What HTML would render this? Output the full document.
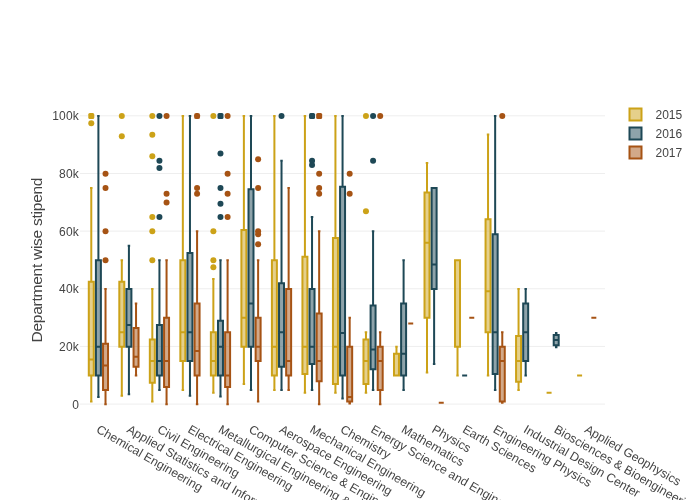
<!DOCTYPE html>
<html><head><meta charset="utf-8"><title>Department wise stipend</title>
<style>
html,body{margin:0;padding:0;background:#fff;}
body{width:700px;height:500px;overflow:hidden;}
svg{display:block;}
text{font-family:"Liberation Sans",sans-serif;fill:#444;}
.b{stroke-width:2;fill-opacity:0.5;}
.w{stroke-width:2;fill:none;}
</style></head><body>
<svg width="700" height="500" viewBox="0 0 700 500">
<rect width="700" height="500" fill="#fff"/>
<g stroke="#eee" stroke-width="1">
<path d="M80,404.1H605"/>
<path d="M80,346.44H605"/>
<path d="M80,288.78H605"/>
<path d="M80,231.12H605"/>
<path d="M80,173.46H605"/>
<path d="M80,115.8H605"/>
</g>
<g stroke="#CCA218" fill="#CCA218">
<path class="b" d="M88.79,359.61H93.77M88.79,375.47H93.77V281.77H88.79ZM91.28,375.47V401.42M91.28,281.77V188.08M90.03,401.42H92.53M90.03,188.08H92.53"/>
<rect x="88.28" y="113.1" width="6" height="6" rx="1.5" stroke="none"/>
<circle cx="91.28" cy="123.21" r="3" stroke="none"/>
<path class="b" d="M119.31,332.23H124.29M119.31,346.64H124.29V281.77H119.31ZM121.8,346.64V395.65M121.8,281.77V260.15M120.55,395.65H123.05M120.55,260.15H123.05"/>
<circle cx="121.8" cy="116.0" r="3" stroke="none"/>
<circle cx="121.8" cy="136.18" r="3" stroke="none"/>
<path class="b" d="M149.83,361.06H154.81M149.83,382.68H154.81V339.43H149.83ZM152.32,382.68V401.42M152.32,339.43V288.98M151.07,401.42H153.56M151.07,288.98H153.56"/>
<circle cx="152.32" cy="116.0" r="3" stroke="none"/>
<circle cx="152.32" cy="134.74" r="3" stroke="none"/>
<circle cx="152.32" cy="156.36" r="3" stroke="none"/>
<circle cx="152.32" cy="216.91" r="3" stroke="none"/>
<circle cx="152.32" cy="231.32" r="3" stroke="none"/>
<circle cx="152.32" cy="260.15" r="3" stroke="none"/>
<path class="b" d="M180.35,332.23H185.33M180.35,361.06H185.33V260.15H180.35ZM182.84,361.06V389.88M182.84,260.15V116.0M181.59,389.88H184.09M181.59,116.0H184.09"/>
<path class="b" d="M210.87,361.06H215.85M210.87,375.47H215.85V332.23H210.87ZM213.36,375.47V392.77M213.36,332.23V278.89M212.12,392.77H214.61M212.12,278.89H214.61"/>
<circle cx="213.36" cy="116.0" r="3" stroke="none"/>
<circle cx="213.36" cy="231.32" r="3" stroke="none"/>
<circle cx="213.36" cy="260.15" r="3" stroke="none"/>
<circle cx="213.36" cy="267.36" r="3" stroke="none"/>
<path class="b" d="M241.39,317.81H246.37M241.39,346.64H246.37V229.88H241.39ZM243.88,346.64V384.12M243.88,229.88V116.0M242.63,384.12H245.12M242.63,116.0H245.12"/>
<path class="b" d="M271.91,346.64H276.89M271.91,375.47H276.89V260.15H271.91ZM274.4,375.47V389.88M274.4,260.15V116.0M273.15,389.88H275.64M273.15,116.0H275.64"/>
<path class="b" d="M302.43,346.64H307.41M302.43,374.03H307.41V256.69H302.43ZM304.92,374.03V392.77M304.92,256.69V116.0M303.68,392.77H306.17M303.68,116.0H306.17"/>
<path class="b" d="M332.95,346.64H337.93M332.95,384.12H337.93V237.95H332.95ZM335.44,384.12V392.77M335.44,237.95V116.0M334.19,392.77H336.69M334.19,116.0H336.69"/>
<path class="b" d="M363.47,361.06H368.45M363.47,384.12H368.45V339.43H363.47ZM365.96,384.12V392.77M365.96,339.43V332.23M364.71,392.77H367.2M364.71,332.23H367.2"/>
<circle cx="365.96" cy="116.0" r="3" stroke="none"/>
<circle cx="365.96" cy="211.14" r="3" stroke="none"/>
<path class="b" d="M393.99,375.47H398.97M393.99,375.47H398.97V353.85H393.99ZM396.48,375.47V375.47M396.48,353.85V346.64M395.24,375.47H397.73M395.24,346.64H397.73"/>
<path class="b" d="M424.51,242.85H429.49M424.51,317.81H429.49V192.4H424.51ZM427.0,317.81V372.59M427.0,192.4V162.99M425.75,372.59H428.25M425.75,162.99H428.25"/>
<path class="b" d="M455.03,260.15H460.01M455.03,346.64H460.01V260.15H455.03ZM457.52,346.64V375.47M457.52,260.15V260.15M456.27,375.47H458.76M456.27,260.15H458.76"/>
<path class="b" d="M485.55,291.29H490.53M485.55,332.23H490.53V219.21H485.55ZM488.04,332.23V375.47M488.04,219.21V134.45M486.8,375.47H489.29M486.8,134.45H489.29"/>
<path class="b" d="M516.07,361.06H521.05M516.07,381.81H521.05V335.97H516.07ZM518.56,381.81V389.88M518.56,335.97V288.98M517.31,389.88H519.8M517.31,288.98H519.8"/>
<path class="b" d="M546.59,392.77H551.57M546.59,392.77H551.57V392.77H546.59ZM549.08,392.77V392.77M549.08,392.77V392.77M547.84,392.77H550.33M547.84,392.77H550.33"/>
<path class="b" d="M577.11,375.47H582.09M577.11,375.47H582.09V375.47H577.11ZM579.6,375.47V375.47M579.6,375.47V375.47M578.36,375.47H580.85M578.36,375.47H580.85"/>
</g>
<g stroke="#1E4856" fill="#1E4856">
<path class="b" d="M95.91,346.64H100.89M95.91,375.47H100.89V260.15H95.91ZM98.4,375.47V397.09M98.4,260.15V116.0M97.16,397.09H99.65M97.16,116.0H99.65"/>
<path class="b" d="M126.43,325.02H131.41M126.43,346.64H131.41V288.98H126.43ZM128.92,346.64V394.21M128.92,288.98V245.74M127.67,394.21H130.16M127.67,245.74H130.16"/>
<path class="b" d="M156.95,361.06H161.93M156.95,375.47H161.93V325.02H156.95ZM159.44,375.47V389.88M159.44,325.02V260.15M158.19,389.88H160.69M158.19,260.15H160.69"/>
<circle cx="159.44" cy="116.0" r="3" stroke="none"/>
<circle cx="159.44" cy="160.69" r="3" stroke="none"/>
<circle cx="159.44" cy="167.89" r="3" stroke="none"/>
<circle cx="159.44" cy="216.91" r="3" stroke="none"/>
<path class="b" d="M187.47,332.23H192.45M187.47,361.06H192.45V252.94H187.47ZM189.96,361.06V395.65M189.96,252.94V116.0M188.72,395.65H191.21M188.72,116.0H191.21"/>
<path class="b" d="M217.99,346.64H222.97M217.99,375.47H222.97V320.69H217.99ZM220.48,375.47V396.52M220.48,320.69V260.15M219.23,396.52H221.72M219.23,260.15H221.72"/>
<rect x="217.48" y="113.1" width="6" height="6" rx="1.5" stroke="none"/>
<circle cx="220.48" cy="153.48" r="3" stroke="none"/>
<circle cx="220.48" cy="188.08" r="3" stroke="none"/>
<circle cx="220.48" cy="203.64" r="3" stroke="none"/>
<circle cx="220.48" cy="216.91" r="3" stroke="none"/>
<path class="b" d="M248.51,303.39H253.49M248.51,346.64H253.49V189.23H248.51ZM251.0,346.64V389.88M251.0,189.23V116.0M249.75,389.88H252.25M249.75,116.0H252.25"/>
<path class="b" d="M279.03,332.23H284.01M279.03,366.82H284.01V283.21H279.03ZM281.52,366.82V389.88M281.52,283.21V160.69M280.27,389.88H282.76M280.27,160.69H282.76"/>
<circle cx="281.52" cy="116.0" r="3" stroke="none"/>
<path class="b" d="M309.55,346.64H314.53M309.55,363.94H314.53V288.98H309.55ZM312.04,363.94V389.88M312.04,288.98V216.91M310.8,389.88H313.29M310.8,216.91H313.29"/>
<rect x="309.04" y="113.1" width="6" height="6" rx="1.5" stroke="none"/>
<circle cx="312.04" cy="160.69" r="3" stroke="none"/>
<circle cx="312.04" cy="165.01" r="3" stroke="none"/>
<path class="b" d="M340.07,333.09H345.05M340.07,375.47H345.05V186.63H340.07ZM342.56,375.47V398.53M342.56,186.63V116.0M341.31,398.53H343.81M341.31,116.0H343.81"/>
<path class="b" d="M370.59,349.52H375.57M370.59,369.13H375.57V305.41H370.59ZM373.08,369.13V389.88M373.08,305.41V231.32M371.83,389.88H374.32M371.83,231.32H374.32"/>
<circle cx="373.08" cy="116.0" r="3" stroke="none"/>
<circle cx="373.08" cy="160.69" r="3" stroke="none"/>
<path class="b" d="M401.11,353.85H406.09M401.11,375.47H406.09V303.39H401.11ZM403.6,375.47V389.88M403.6,303.39V260.15M402.36,389.88H404.85M402.36,260.15H404.85"/>
<path class="b" d="M431.63,264.47H436.61M431.63,288.98H436.61V188.08H431.63ZM434.12,288.98V363.94M434.12,188.08V188.08M432.88,363.94H435.37M432.88,188.08H435.37"/>
<path class="b" d="M462.15,375.47H467.13M462.15,375.47H467.13V375.47H462.15ZM464.64,375.47V375.47M464.64,375.47V375.47M463.39,375.47H465.88M463.39,375.47H465.88"/>
<path class="b" d="M492.67,332.23H497.65M492.67,374.03H497.65V234.2H492.67ZM495.16,374.03V389.88M495.16,234.2V116.0M493.92,389.88H496.41M493.92,116.0H496.41"/>
<path class="b" d="M523.19,332.23H528.17M523.19,361.06H528.17V303.39H523.19ZM525.68,361.06V375.47M525.68,303.39V288.98M524.43,375.47H526.92M524.43,288.98H526.92"/>
<path class="b" d="M553.71,340.01H558.69M553.71,345.2H558.69V335.11H553.71ZM556.2,345.2V347.22M556.2,335.11V333.09M554.96,347.22H557.45M554.96,333.09H557.45"/>
</g>
<g stroke="#A65314" fill="#A65314">
<path class="b" d="M103.03,365.38H108.01M103.03,389.88H108.01V343.76H103.03ZM105.52,389.88V404.3M105.52,343.76V288.98M104.27,404.3H106.77M104.27,288.98H106.77"/>
<circle cx="105.52" cy="173.66" r="3" stroke="none"/>
<circle cx="105.52" cy="188.08" r="3" stroke="none"/>
<circle cx="105.52" cy="231.32" r="3" stroke="none"/>
<circle cx="105.52" cy="260.15" r="3" stroke="none"/>
<path class="b" d="M133.55,356.73H138.53M133.55,366.82H138.53V327.9H133.55ZM136.04,366.82V375.47M136.04,327.9V303.39M134.79,375.47H137.28M134.79,303.39H137.28"/>
<path class="b" d="M164.07,361.06H169.05M164.07,387.0H169.05V317.81H164.07ZM166.56,387.0V404.3M166.56,317.81V260.15M165.31,404.3H167.81M165.31,260.15H167.81"/>
<circle cx="166.56" cy="116.0" r="3" stroke="none"/>
<circle cx="166.56" cy="193.84" r="3" stroke="none"/>
<circle cx="166.56" cy="202.49" r="3" stroke="none"/>
<path class="b" d="M194.59,350.96H199.57M194.59,375.47H199.57V303.39H194.59ZM197.08,375.47V404.3M197.08,303.39V231.32M195.84,404.3H198.33M195.84,231.32H198.33"/>
<rect x="194.08" y="113.1" width="6" height="6" rx="2.2" stroke="none"/>
<circle cx="197.08" cy="188.08" r="3" stroke="none"/>
<circle cx="197.08" cy="193.84" r="3" stroke="none"/>
<path class="b" d="M225.11,375.47H230.09M225.11,387.0H230.09V332.23H225.11ZM227.6,387.0V404.3M227.6,332.23V260.15M226.35,404.3H228.84M226.35,260.15H228.84"/>
<circle cx="227.6" cy="116.0" r="3" stroke="none"/>
<circle cx="227.6" cy="173.66" r="3" stroke="none"/>
<circle cx="227.6" cy="193.84" r="3" stroke="none"/>
<circle cx="227.6" cy="216.91" r="3" stroke="none"/>
<path class="b" d="M255.63,346.64H260.61M255.63,361.06H260.61V317.81H255.63ZM258.12,361.06V401.42M258.12,317.81V260.15M256.88,401.42H259.37M256.88,260.15H259.37"/>
<circle cx="258.12" cy="159.25" r="3" stroke="none"/>
<circle cx="258.12" cy="188.08" r="3" stroke="none"/>
<circle cx="258.12" cy="231.32" r="3" stroke="none"/>
<circle cx="258.12" cy="234.2" r="3" stroke="none"/>
<circle cx="258.12" cy="244.29" r="3" stroke="none"/>
<path class="b" d="M286.15,361.06H291.13M286.15,375.47H291.13V288.98H286.15ZM288.64,375.47V389.88M288.64,288.98V188.08M287.39,389.88H289.88M287.39,188.08H289.88"/>
<path class="b" d="M316.67,361.06H321.65M316.67,381.24H321.65V313.49H316.67ZM319.16,381.24V404.3M319.16,313.49V231.32M317.92,404.3H320.41M317.92,231.32H320.41"/>
<rect x="316.16" y="113.1" width="6" height="6" rx="1.5" stroke="none"/>
<circle cx="319.16" cy="173.66" r="3" stroke="none"/>
<circle cx="319.16" cy="188.08" r="3" stroke="none"/>
<circle cx="319.16" cy="193.84" r="3" stroke="none"/>
<path class="b" d="M347.19,397.09H352.17M347.19,401.42H352.17V346.64H347.19ZM349.68,401.42V403.44M349.68,346.64V317.81M348.44,403.44H350.93M348.44,317.81H350.93"/>
<circle cx="349.68" cy="173.66" r="3" stroke="none"/>
<circle cx="349.68" cy="193.84" r="3" stroke="none"/>
<path class="b" d="M377.71,361.06H382.69M377.71,389.88H382.69V346.64H377.71ZM380.2,389.88V404.3M380.2,346.64V332.23M378.95,404.3H381.44M378.95,332.23H381.44"/>
<circle cx="380.2" cy="116.0" r="3" stroke="none"/>
<path class="b" d="M408.23,323.58H413.21M408.23,323.58H413.21V323.58H408.23ZM410.72,323.58V323.58M410.72,323.58V323.58M409.48,323.58H411.97M409.48,323.58H411.97"/>
<path class="b" d="M438.75,402.86H443.73M438.75,402.86H443.73V402.86H438.75ZM441.24,402.86V402.86M441.24,402.86V402.86M440.0,402.86H442.49M440.0,402.86H442.49"/>
<path class="b" d="M469.27,317.81H474.25M469.27,317.81H474.25V317.81H469.27ZM471.76,317.81V317.81M471.76,317.81V317.81M470.51,317.81H473.0M470.51,317.81H473.0"/>
<path class="b" d="M499.79,361.06H504.77M499.79,401.42H504.77V346.64H499.79ZM502.28,401.42V402.86M502.28,346.64V332.23M501.03,402.86H503.52M501.03,332.23H503.52"/>
<circle cx="502.28" cy="116.0" r="3" stroke="none"/>
<path class="b" d="M591.35,317.81H596.33M591.35,317.81H596.33V317.81H591.35ZM593.84,317.81V317.81M593.84,317.81V317.81M592.6,317.81H595.09M592.6,317.81H595.09"/>
</g>
<g font-size="12" text-anchor="end" letter-spacing="0.2">
<text x="79" y="408.6">0</text>
<text x="79" y="350.94">20k</text>
<text x="79" y="293.28">40k</text>
<text x="79" y="235.62">60k</text>
<text x="79" y="177.96">80k</text>
<text x="79" y="120.3">100k</text>
</g>
<g font-size="12.3">
<text x="98.4" y="432.5" transform="rotate(30 98.4 426.5)">Chemical Engineering</text>
<text x="128.92" y="432.5" transform="rotate(30 128.92 426.5)">Applied Statistics and Informatics</text>
<text x="159.44" y="432.5" transform="rotate(30 159.44 426.5)">Civil Engineering</text>
<text x="189.96" y="432.5" transform="rotate(30 189.96 426.5)">Electrical Engineering</text>
<text x="220.48" y="432.5" transform="rotate(30 220.48 426.5)">Metallurgical Engineering &amp; Materials Science</text>
<text x="251.0" y="432.5" transform="rotate(30 251.0 426.5)">Computer Science &amp; Engineering</text>
<text x="281.52" y="432.5" transform="rotate(30 281.52 426.5)">Aerospace Engineering</text>
<text x="312.04" y="432.5" transform="rotate(30 312.04 426.5)">Mechanical Engineering</text>
<text x="342.56" y="432.5" transform="rotate(30 342.56 426.5)">Chemistry</text>
<text x="373.08" y="432.5" transform="rotate(30 373.08 426.5)">Energy Science and Engineering</text>
<text x="403.6" y="432.5" transform="rotate(30 403.6 426.5)">Mathematics</text>
<text x="434.12" y="432.5" transform="rotate(30 434.12 426.5)">Physics</text>
<text x="464.64" y="432.5" transform="rotate(30 464.64 426.5)">Earth Sciences</text>
<text x="495.16" y="432.5" transform="rotate(30 495.16 426.5)">Engineering Physics</text>
<text x="525.68" y="432.5" transform="rotate(30 525.68 426.5)">Industrial Design Center</text>
<text x="556.2" y="432.5" transform="rotate(30 556.2 426.5)">Biosciences &amp; Bioengineering</text>
<text x="586.72" y="432.5" transform="rotate(30 586.72 426.5)">Applied Geophysics</text>
</g>
<text font-size="15.5" text-anchor="middle" textLength="165" lengthAdjust="spacing" transform="translate(42.3,260) rotate(-90)">Department wise stipend</text>
<rect x="629.5" y="108.5" width="12" height="12" fill="#CCA218" fill-opacity="0.5" stroke="#CCA218" stroke-width="2"/>
<text x="655.5" y="118.7" font-size="12">2015</text>
<rect x="629.5" y="127.5" width="12" height="12" fill="#1E4856" fill-opacity="0.5" stroke="#1E4856" stroke-width="2"/>
<text x="655.5" y="137.7" font-size="12">2016</text>
<rect x="629.5" y="146.5" width="12" height="12" fill="#A65314" fill-opacity="0.5" stroke="#A65314" stroke-width="2"/>
<text x="655.5" y="156.7" font-size="12">2017</text>
</svg>
</body></html>
